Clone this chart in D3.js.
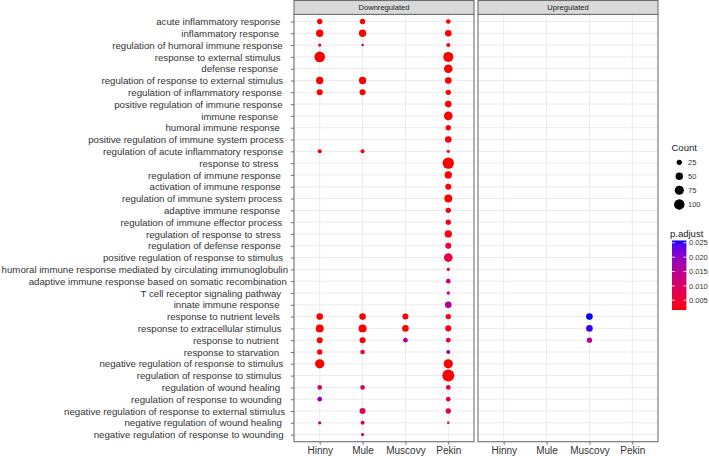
<!DOCTYPE html>
<html>
<head>
<meta charset="utf-8">
<script src="https://cdn.jsdelivr.net/npm/d3@7"></script>
<style>
  html, body { margin: 0; padding: 0; background: #ffffff; }
  svg { display: block; font-family: "Liberation Sans", Arial, Helvetica, sans-serif; }
</style>
</head>
<body>
<svg id="chart" width="709" height="456"></svg>
<script>
// ---------------- DATA ----------------
const terms = [
  "acute inflammatory response",
  "inflammatory response",
  "regulation of humoral immune response",
  "response to external stimulus",
  "defense response",
  "regulation of response to external stimulus",
  "regulation of inflammatory response",
  "positive regulation of immune response",
  "immune response",
  "humoral immune response",
  "positive regulation of immune system process",
  "regulation of acute inflammatory response",
  "response to stress",
  "regulation of immune response",
  "activation of immune response",
  "regulation of immune system process",
  "adaptive immune response",
  "regulation of immune effector process",
  "regulation of response to stress",
  "regulation of defense response",
  "positive regulation of response to stimulus",
  "humoral immune response mediated by circulating immunoglobulin",
  "adaptive immune response based on somatic recombination",
  "T cell receptor signaling pathway",
  "innate immune response",
  "response to nutrient levels",
  "response to extracellular stimulus",
  "response to nutrient",
  "response to starvation",
  "negative regulation of response to stimulus",
  "regulation of response to stimulus",
  "regulation of wound healing",
  "regulation of response to wounding",
  "negative regulation of response to external stimulus",
  "negative regulation of wound healing",
  "negative regulation of response to wounding"
];
const samples = ["Hinny", "Mule", "Muscovy", "Pekin"];
const panels = ["Downregulated", "Upregulated"];

// Downregulated: gene counts per term (null = not enriched)
const downHinnyCount   = [26,49,10,103,null,49,33,null,null,null,null,15,null,null,null,null,null,null,null,null,null,null,null,null,null,40,58,33,26,79,null,20,20,null,10,null];
const downMuleCount    = [26,49,6,null,null,49,33,null,null,null,null,15,null,null,null,null,null,null,null,null,null,null,null,null,null,40,58,33,20,null,null,20,null,33,15,10];
const downMuscovyCount = [null,null,null,null,null,null,null,null,null,null,null,null,null,null,null,null,null,null,null,null,null,null,null,null,null,33,40,20,null,null,null,null,null,null,null,null];
const downPekinCount   = [20,40,15,91,68,40,26,40,68,26,40,10,117,49,33,58,26,26,49,33,68,10,20,10,40,26,33,20,15,79,131,20,20,26,6,null];

// Downregulated: adjusted p-values per term
const downHinnyP   = [0.0016,0.0016,0.006,0.0016,null,0.0016,0.0016,null,null,null,null,0.0018,null,null,null,null,null,null,null,null,null,null,null,null,null,0.0016,0.0016,0.0017,0.0018,0.0016,null,0.009,0.019,null,0.012,null];
const downMuleP    = [0.0017,0.0016,0.013,null,null,0.0016,0.0017,null,null,null,null,0.0019,null,null,null,null,null,null,null,null,null,null,null,null,null,0.0016,0.0016,0.0018,0.004,null,null,0.009,null,0.008,0.007,0.010];
const downMuscovyP = [null,null,null,null,null,null,null,null,null,null,null,null,null,null,null,null,null,null,null,null,null,null,null,null,null,0.0018,0.0017,0.016,null,null,null,null,null,null,null,null];
const downPekinP   = [0.0018,0.0017,0.003,0.0016,0.0016,0.0016,0.0017,0.0017,0.0016,0.0018,0.0017,0.003,0.0016,0.0017,0.0018,0.0017,0.003,0.004,0.003,0.005,0.006,0.009,0.011,0.012,0.016,0.003,0.003,0.006,0.019,0.0017,0.0016,0.006,0.006,0.007,0.006,null];

// Upregulated: only Muscovy has enriched terms
const upTerms  = ["response to nutrient levels", "response to extracellular stimulus", "response to nutrient"];
const upCount  = [40, 40, 26];
const upP      = [0.0258, 0.025, 0.015];

// Legend breaks
const countBreaks = [25, 50, 75, 100];
const pBreaks = [0.005, 0.010, 0.015, 0.020, 0.025];

// ---------------- BUILD RECORDS ----------------
const downCounts = { Hinny: downHinnyCount, Mule: downMuleCount, Muscovy: downMuscovyCount, Pekin: downPekinCount };
const downPs = { Hinny: downHinnyP, Mule: downMuleP, Muscovy: downMuscovyP, Pekin: downPekinP };
const records = [];
samples.forEach(s => {
  terms.forEach((t, i) => {
    if (downCounts[s][i] != null) records.push({ panel: "Downregulated", sample: s, term: t, count: downCounts[s][i], p: downPs[s][i] });
  });
});
upTerms.forEach((t, i) => records.push({ panel: "Upregulated", sample: "Muscovy", term: t, count: upCount[i], p: upP[i] }));

// ---------------- LAYOUT ----------------
const svg = d3.select("#chart");
const panelTop = 14.4, panelBottom = 441.7;
const panelX = { Downregulated: [294, 474], Upregulated: [478, 658] };
const stripTop = 0.5;
const textCol = "#333333";
const borderCol = "#6f6f6f";

const y = d3.scalePoint().domain(terms).range([panelTop, panelBottom]).padding(0.6);
const pExtent = d3.extent(records, d => d.p);
const color = d3.scaleLinear().domain(pExtent).range(["#ff0000", "#0000ff"]).interpolate(d3.interpolateLab);
const size = d3.scaleSqrt().domain([0, 140]).range([0, 6.2]);

panels.forEach(panel => {
  const [x0, x1] = panelX[panel];
  const x = d3.scalePoint().domain(samples).range([x0, x1]).padding(0.6);
  const g = svg.append("g");

  g.append("rect").attr("x", x0).attr("y", panelTop).attr("width", x1 - x0).attr("height", panelBottom - panelTop).attr("fill", "#fff");

  g.selectAll(".hg").data(terms).join("line")
    .attr("x1", x0).attr("x2", x1).attr("y1", d => y(d)).attr("y2", d => y(d))
    .attr("stroke", "#ebebeb").attr("stroke-width", 1);
  g.selectAll(".vg").data(samples).join("line")
    .attr("x1", d => x(d)).attr("x2", d => x(d)).attr("y1", panelTop).attr("y2", panelBottom)
    .attr("stroke", "#ebebeb").attr("stroke-width", 1);

  g.selectAll("circle.pt").data(records.filter(r => r.panel === panel)).join("circle")
    .attr("class", "pt")
    .attr("cx", d => x(d.sample)).attr("cy", d => y(d.term))
    .attr("r", d => size(d.count))
    .attr("fill", d => color(d.p));

  g.append("rect").attr("x", x0).attr("y", panelTop).attr("width", x1 - x0).attr("height", panelBottom - panelTop)
    .attr("fill", "none").attr("stroke", borderCol).attr("stroke-width", 1.1);

  g.append("rect").attr("x", x0).attr("y", stripTop).attr("width", x1 - x0).attr("height", panelTop - stripTop)
    .attr("fill", "#d9d9d9").attr("stroke", borderCol).attr("stroke-width", 1.1);
  g.append("text").attr("x", (x0 + x1) / 2).attr("y", (stripTop + panelTop) / 2).attr("dy", "0.35em")
    .attr("text-anchor", "middle").attr("font-size", 7.6).attr("fill", "#1a1a1a").text(panel);

  const ax = svg.append("g").attr("transform", `translate(0,${panelBottom})`)
    .call(d3.axisBottom(x).tickSize(3).tickPadding(2.5));
  ax.select(".domain").remove();
  ax.selectAll("line").attr("stroke", borderCol);
  ax.selectAll("text").attr("font-size", 10).attr("fill", textCol).attr("font-family", null);

  if (panel === "Downregulated") {
    const ay = svg.append("g").attr("transform", `translate(${x0},0)`)
      .call(d3.axisLeft(y).tickSize(3).tickPadding(3));
    ay.select(".domain").remove();
    ay.selectAll("line").attr("stroke", borderCol);
    const labels = ay.selectAll("text").attr("font-size", 10).attr("fill", textCol).attr("font-family", null);
    // fit the longest label into the space left of the axis
    let maxW = 0;
    labels.each(function () { maxW = Math.max(maxW, this.getComputedTextLength()); });
    const fs = Math.min(10, 10 * 287 / maxW);
    labels.attr("font-size", fs).each(function () {
      const w = this.getComputedTextLength();
      const right = 274.5 + 0.0476 * w;
      d3.select(this).attr("x", Math.max(right, w + 0.5) - x0);
    });
  }
});

// ---------------- LEGENDS ----------------
const lg = svg.append("g");
lg.append("text").attr("x", 671.5).attr("y", 150.5).attr("font-size", 9.5).attr("fill", "#1a1a1a").text("Count");
const countY = [162.3, 176.2, 190.3, 204.4];
countBreaks.forEach((c, i) => {
  lg.append("circle").attr("cx", 679.3).attr("cy", countY[i]).attr("r", size(c)).attr("fill", "#000");
  lg.append("text").attr("x", 688).attr("y", countY[i]).attr("dy", "0.35em").attr("font-size", 7.5).attr("fill", textCol).text(c);
});

lg.append("text").attr("x", 670).attr("y", 236.5).attr("font-size", 9.5).attr("fill", "#1a1a1a").text("p.adjust");
const barX = 672, barW = 14.4, barTop = 240.5, barBottom = 310;
const barY = d3.scaleLinear().domain(pExtent).range([barBottom, barTop]);
const defs = svg.append("defs");
const grad = defs.append("linearGradient").attr("id", "pgrad").attr("x1", 0).attr("y1", 1).attr("x2", 0).attr("y2", 0);
d3.range(0, 21).forEach(k => {
  const v = pExtent[0] + (pExtent[1] - pExtent[0]) * k / 20;
  grad.append("stop").attr("offset", (k / 20 * 100) + "%").attr("stop-color", color(v));
});
lg.append("rect").attr("x", barX).attr("y", barTop).attr("width", barW).attr("height", barBottom - barTop).attr("fill", "url(#pgrad)");
pBreaks.forEach(v => {
  const yy = barY(v);
  lg.append("line").attr("x1", barX).attr("x2", barX + 3).attr("y1", yy).attr("y2", yy).attr("stroke", "#fff").attr("stroke-width", 0.8);
  lg.append("line").attr("x1", barX + barW - 3).attr("x2", barX + barW).attr("y1", yy).attr("y2", yy).attr("stroke", "#fff").attr("stroke-width", 0.8);
  lg.append("text").attr("x", 689).attr("y", yy).attr("dy", "0.35em").attr("font-size", 7.5).attr("fill", textCol).text(v.toFixed(3));
});
</script>
</body>
</html>
